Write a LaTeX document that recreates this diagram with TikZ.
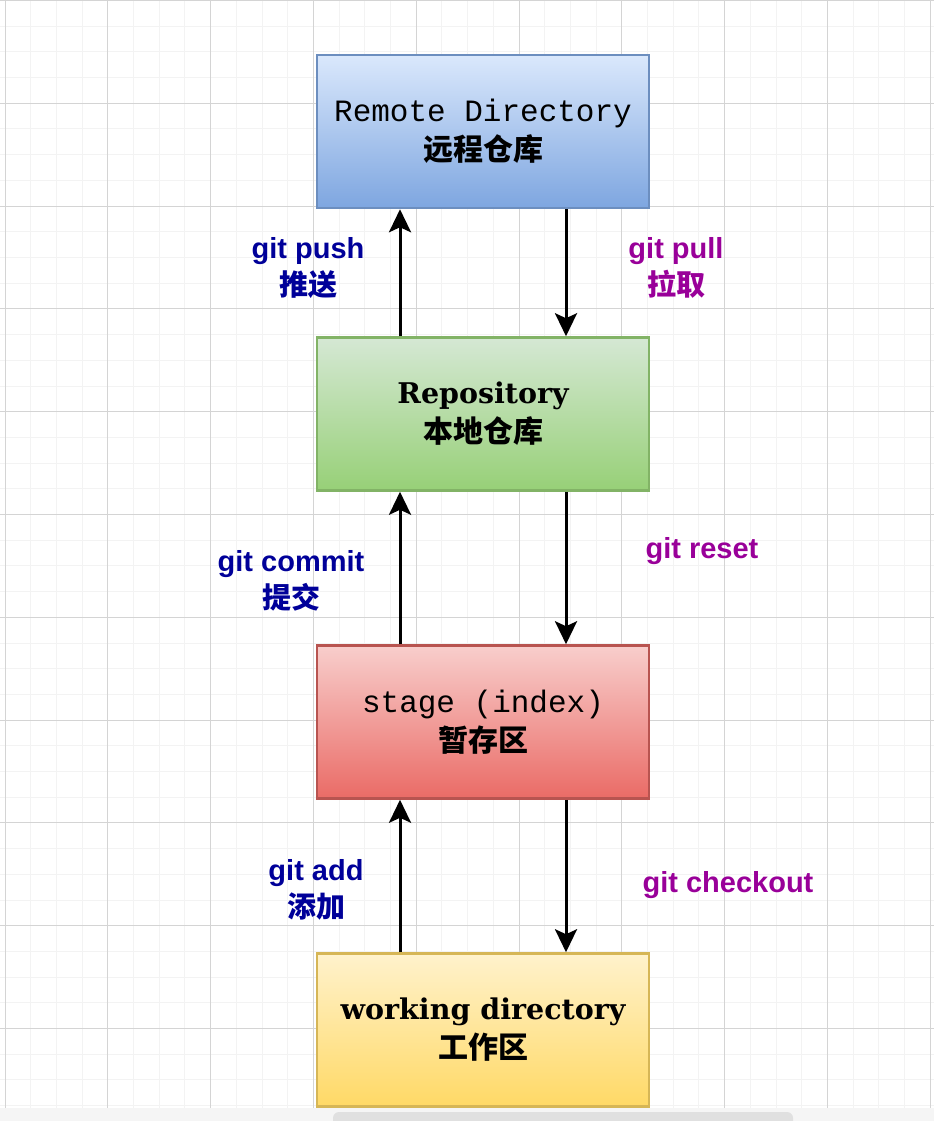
\documentclass[tikz,border=0pt]{standalone}
\usepackage{fontspec}
\usepackage{tikz}
\usetikzlibrary{arrows.meta,positioning,calc}
\newfontfamily\cjk{Noto Sans CJK SC}
\newfontfamily\monofont{Liberation Mono}
\newfontfamily\seriffont{DejaVu Serif}
\newfontfamily\lblfont{Liberation Sans}
\definecolor{gitBlue}{RGB}{0,0,153}
\definecolor{gitPurple}{RGB}{153,0,153}
\definecolor{gridMinor}{RGB}{243,243,243}
\definecolor{gridMajor}{RGB}{212,212,212}
\begin{document}
\begin{tikzpicture}[x=1pt,y=-1pt,
        area/.style={draw, line width=2.5pt, minimum width=332pt,
          minimum height=153pt, align=center,
          font=\fontsize{31}{39}\selectfont},
        flow/.style={draw=black, line width=3pt,
          -{Stealth[length=23pt,width=22pt,inset=5pt]}},
        cmd/.style={align=center, font=\fontsize{29}{37}\selectfont\bfseries},
      ]
        \useasboundingbox (0,0) rectangle (934,1121);
        % background grid
        \foreach \k in {0,...,36}
          \draw[gridMinor, line width=1pt] (5+\k*25.7,0) -- (5+\k*25.7,1108);
        \foreach \k in {0,...,43}
          \draw[gridMinor, line width=1pt] (0,0.5+\k*25.7) -- (934,0.5+\k*25.7);
        \foreach \k in {0,4,...,36}
          \draw[gridMajor, line width=1pt] (5+\k*25.7,0) -- (5+\k*25.7,1108);
        \foreach \k in {0,4,...,40}
          \draw[gridMajor, line width=1pt] (0,0.5+\k*25.7) -- (934,0.5+\k*25.7);
        \fill[black!4] (0,1108) rectangle (934,1121);
        \fill[black!12, rounded corners=6pt] (333,1112) rectangle (793,1135);

        \node[area, draw={rgb,255:red,108;green,142;blue,191},
          top color={rgb,255:red,218;green,232;blue,252},
          bottom color={rgb,255:red,126;green,166;blue,224}] (remote) at (483,131.5)
          {{\monofont Remote Directory}\\{\cjk\bfseries\fontsize{30}{39}\selectfont 远程仓库}};
        \node[area, draw={rgb,255:red,130;green,179;blue,102},
          top color={rgb,255:red,213;green,232;blue,212},
          bottom color={rgb,255:red,151;green,208;blue,119}] (repo) at (483,414)
          {{\seriffont\bfseries\fontsize{28.5}{39}\selectfont Repository}\\{\cjk\bfseries\fontsize{30}{39}\selectfont 本地仓库}};
        \node[area, draw={rgb,255:red,184;green,84;blue,80},
          top color={rgb,255:red,248;green,206;blue,204},
          bottom color={rgb,255:red,234;green,107;blue,102}] (stage) at (483,722)
          {{\monofont stage (index)}\\{\cjk\bfseries\fontsize{30}{39}\selectfont 暂存区}};
        \node[area, draw={rgb,255:red,214;green,182;blue,86},
          top color={rgb,255:red,255;green,242;blue,204},
          bottom color={rgb,255:red,255;green,217;blue,102}] (work) at (483,1030)
          {{\seriffont\bfseries\fontsize{28.5}{39}\selectfont working directory}\\{\cjk\bfseries\fontsize{30}{39}\selectfont 工作区}};

        \draw[flow] ([xshift=-83pt]repo.north) -- ([xshift=-83pt]remote.south);
        \draw[flow] ([xshift=83pt]remote.south) -- ([xshift=83pt]repo.north);
        \draw[flow] ([xshift=-83pt]stage.north) -- ([xshift=-83pt]repo.south);
        \draw[flow] ([xshift=83pt]repo.south) -- ([xshift=83pt]stage.north);
        \draw[flow] ([xshift=-83pt]work.north) -- ([xshift=-83pt]stage.south);
        \draw[flow] ([xshift=83pt]stage.south) -- ([xshift=83pt]work.north);

        \node[cmd, text=gitBlue] (push) at (308,268) {{\lblfont git push}\\{\cjk 推送}};
        \node[cmd, text=gitPurple] (pull) at (676,268) {{\lblfont git pull}\\{\cjk 拉取}};
        \node[cmd, text=gitBlue] (commit) at (291,581) {{\lblfont git commit}\\{\cjk 提交}};
        \node[cmd, text=gitPurple] (reset) at (702,551) {\lblfont git reset};
        \node[cmd, text=gitBlue] (add) at (316,890) {{\lblfont git add}\\{\cjk 添加}};
        \node[cmd, text=gitPurple] (checkout) at (728,885) {\lblfont git checkout};
      \end{tikzpicture}
\end{document}
